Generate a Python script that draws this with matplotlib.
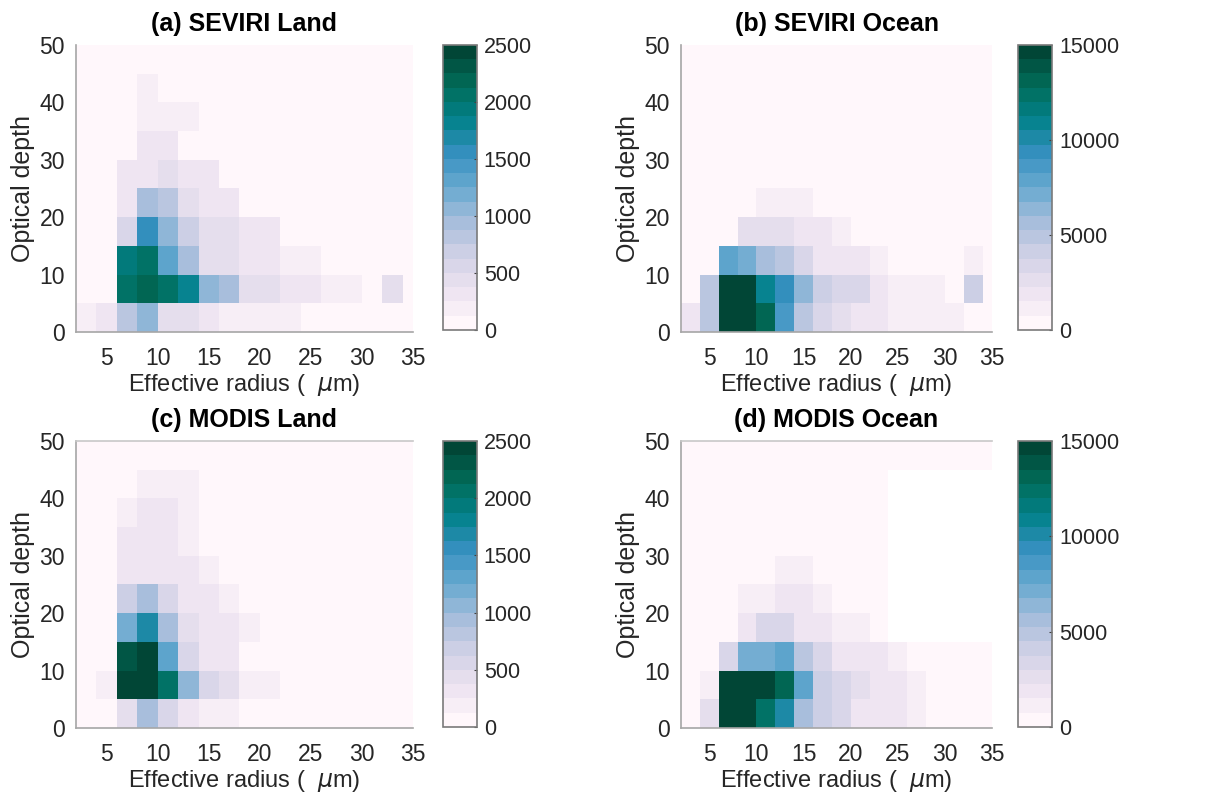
import numpy as np
import matplotlib
matplotlib.use("Agg")
import matplotlib.pyplot as plt
from matplotlib.colors import BoundaryNorm

plt.rcParams['font.family'] = ['Liberation Sans', 'DejaVu Sans']

# histogram bins: effective radius (um) and optical depth
re_edges = np.arange(2, 37, 2)
tau_edges = np.arange(0, 51, 5)

nan = np.nan

# counts per bin, rows are optical depth bins (0-5 at the bottom),
# columns are effective radius bins (2-4 ... 34-36)
seviri_land = [
    [150, 300, 800, 1000, 400, 400, 300, 200, 150, 150, 150, 0, 0, 0, 0, 0, 0],
    [0, 80, 2000, 2150, 2050, 1800, 1100, 900, 450, 400, 350, 300, 200, 200, 0, 450, 0],
    [0, 80, 1950, 2050, 1300, 900, 450, 400, 300, 250, 200, 150, 0, 0, 0, 0, 0],
    [0, 0, 600, 1500, 1000, 650, 450, 400, 300, 250, 0, 0, 0, 0, 0, 0, 0],
    [0, 0, 350, 900, 750, 450, 350, 300, 0, 0, 0, 0, 0, 0, 0, 0, 0],
    [0, 0, 250, 350, 450, 350, 250, 0, 0, 0, 0, 0, 0, 0, 0, 0, 0],
    [0, 0, 0, 300, 300, 100, 0, 0, 0, 0, 0, 0, 0, 0, 0, 0, 0],
    [0, 0, 0, 200, 150, 150, 0, 0, 0, 0, 0, 0, 0, 0, 0, 0, 0],
    [0, 0, 0, 150, 0, 0, 0, 0, 0, 0, 0, 0, 0, 0, 0, 0, 0],
    [0, 0, 0, 0, 0, 0, 0, 0, 0, 0, 0, 0, 0, 0, 0, 0, 0],
]

seviri_ocean = [
    [2000, 4500, 15000, 15000, 13000, 8500, 4500, 3000, 2800, 2000, 1800, 1200, 1200, 1200, 1000, 0, 0],
    [0, 4500, 15000, 15000, 11000, 9500, 6000, 4000, 3500, 3000, 2000, 1200, 1200, 1200, 0, 4000, 0],
    [0, 500, 7500, 7000, 5500, 4500, 3000, 2000, 1800, 1500, 1200, 0, 0, 0, 0, 1000, 0],
    [0, 0, 0, 2500, 2500, 2500, 2000, 1500, 1200, 0, 0, 0, 0, 0, 0, 0, 0],
    [0, 0, 0, 700, 1000, 1000, 800, 0, 0, 0, 0, 0, 0, 0, 0, 0, 0],
    [0, 0, 0, 0, 0, 0, 0, 0, 0, 0, 0, 0, 0, 0, 0, 0, 0],
    [0, 0, 0, 0, 0, 0, 0, 0, 0, 0, 0, 0, 0, 0, 0, 0, 0],
    [0, 0, 0, 0, 0, 0, 0, 0, 0, 0, 0, 0, 0, 0, 0, 0, 0],
    [0, 0, 0, 0, 0, 0, 0, 0, 0, 0, 0, 0, 0, 0, 0, 0, 0],
    [0, 0, 0, 0, 0, 0, 0, 0, 0, 0, 0, 0, 0, 0, 0, 0, 0],
]

modis_land = [
    [0, 100, 450, 900, 500, 300, 200, 150, 0, 0, 0, 0, 0, 0, 0, 0, 0],
    [0, 200, 2500, 2500, 2100, 1000, 500, 400, 200, 150, 0, 0, 0, 0, 0, 0, 0],
    [0, 100, 2300, 2500, 1300, 500, 350, 300, 0, 0, 0, 0, 0, 0, 0, 0, 0],
    [0, 0, 1200, 1700, 950, 450, 300, 250, 150, 0, 0, 0, 0, 0, 0, 0, 0],
    [0, 0, 700, 900, 600, 350, 250, 150, 0, 0, 0, 0, 0, 0, 0, 0, 0],
    [0, 0, 350, 350, 350, 250, 150, 0, 0, 0, 0, 0, 0, 0, 0, 0, 0],
    [0, 0, 300, 350, 250, 200, 0, 0, 0, 0, 0, 0, 0, 0, 0, 0, 0],
    [0, 0, 200, 250, 250, 150, 0, 0, 0, 0, 0, 0, 0, 0, 0, 0, 0],
    [0, 0, 0, 150, 200, 150, 0, 0, 0, 0, 0, 0, 0, 0, 0, 0, 0],
    [0, 0, 0, 0, 100, 0, 0, 0, 0, 0, 0, 0, 0, 0, 0, 0, 0],
]

# no MODIS ocean retrievals in the upper right block (left blank)
modis_ocean = [
    [0, 2500, 15000, 15000, 12000, 10000, 5500, 4000, 3500, 2200, 2000, 1800, 1000, 0, 0, 0, 0],
    [0, 800, 14500, 15000, 15000, 13000, 7500, 4000, 3000, 2500, 2000, 1800, 1200, 0, 0, 0, 0],
    [0, 0, 3500, 7000, 7000, 7500, 4500, 3000, 2000, 1500, 1500, 1200, 0, 0, 0, 0, 0],
    [0, 0, 0, 1500, 3000, 3500, 2200, 1800, 1200, 1000, 0, nan, nan, nan, nan, nan, nan],
    [0, 0, 0, 1000, 1200, 2000, 1500, 1000, 0, 0, 0, nan, nan, nan, nan, nan, nan],
    [0, 0, 0, 0, 0, 1000, 800, 0, 0, 0, 0, nan, nan, nan, nan, nan, nan],
    [0, 0, 0, 0, 0, 0, 0, 0, 0, 0, 0, nan, nan, nan, nan, nan, nan],
    [0, 0, 0, 0, 0, 0, 0, 0, 0, 0, 0, nan, nan, nan, nan, nan, nan],
    [0, 0, 0, 0, 0, 0, 0, 0, 0, 0, 0, nan, nan, nan, nan, nan, nan],
    [0, 0, 0, 0, 0, 0, 0, 0, 0, 0, 0, 0, 0, 0, 0, 0, 0],
]

titles = ['(a) SEVIRI Land', '(b) SEVIRI Ocean', '(c) MODIS Land', '(d) MODIS Ocean']
panels = [seviri_land, seviri_ocean, modis_land, modis_ocean]
vmaxes = [2500, 15000, 2500, 15000]
cbar_ticks = [[0, 500, 1000, 1500, 2000, 2500], [0, 5000, 10000, 15000],
              [0, 500, 1000, 1500, 2000, 2500], [0, 5000, 10000, 15000]]

# [left, bottom, width, height] of each heatmap and its colorbar
ax_pos = [[0.0627, 0.5845, 0.278, 0.3592], [0.5619, 0.5845, 0.2566, 0.3592],
          [0.0627, 0.0889, 0.278, 0.3592], [0.5619, 0.0889, 0.2566, 0.3592]]
cb_pos = [[0.3655, 0.587, 0.028, 0.3567], [0.840, 0.587, 0.028, 0.3567],
          [0.3655, 0.090, 0.028, 0.3580], [0.840, 0.090, 0.028, 0.3580]]

nlev = 20
cmap = plt.get_cmap('PuBuGn', nlev)
txt = '#262626'
edge = '#a6a6a6'

fig = plt.figure(figsize=(12.12, 7.99), dpi=100)

for i in range(4):
    ax = fig.add_axes(ax_pos[i])
    cax = fig.add_axes(cb_pos[i])
    data = np.ma.masked_invalid(np.array(panels[i], dtype=float))
    norm = BoundaryNorm(np.linspace(0, vmaxes[i], nlev + 1), nlev)
    mesh = ax.pcolormesh(re_edges, tau_edges, data, cmap=cmap, norm=norm)
    ax.set_facecolor('white')
    ax.set_xlim(2, 35)
    ax.set_ylim(0, 50)
    ax.set_xticks([5, 10, 15, 20, 25, 30, 35])
    ax.set_yticks([0, 10, 20, 30, 40, 50])
    ax.tick_params(length=0, labelsize=16.5, labelcolor=txt, pad=8)
    ax.tick_params(axis='x', pad=11)
    for s in ['top', 'right']:
        ax.spines[s].set_visible(False)
    for s in ['left', 'bottom']:
        ax.spines[s].set_color(edge)
        ax.spines[s].set_linewidth(1.2)
    if i >= 2:
        ax.spines['top'].set_visible(True)
        ax.spines['top'].set_color('#c8c8c8')
        ax.spines['top'].set_linewidth(1.2)
    ax.set_title(titles[i], fontsize=18, fontweight='bold', color='black', pad=10)
    ax.set_xlabel('Effective radius (  $\\mu$m)', fontsize=17, color=txt, labelpad=1)
    ax.set_ylabel('Optical depth', fontsize=18, color=txt, labelpad=3)

    cb = fig.colorbar(mesh, cax=cax, ticks=cbar_ticks[i])
    cb.outline.set_edgecolor('#7a7a7a')
    cb.outline.set_linewidth(1.2)
    cax.minorticks_off()
    cax.tick_params(labelsize=15.5, labelcolor=txt, length=2, direction='in',
                    color='#404040', pad=5)

fig.savefig('out.png', dpi=100)
